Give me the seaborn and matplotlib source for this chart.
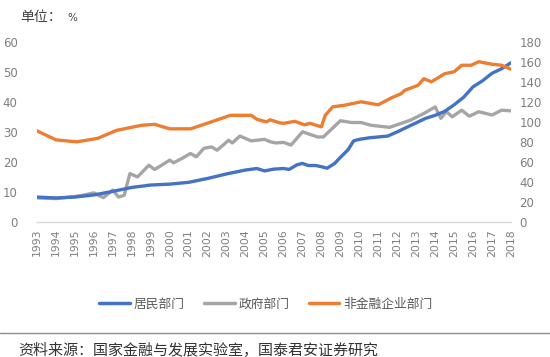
import matplotlib
matplotlib.use("Agg")
import matplotlib.pyplot as plt
from matplotlib.lines import Line2D
import seaborn as sns
import pandas as pd

# ---- data ----
hh_years = [1993, 1994, 1995, 1996, 1997, 1998, 1999, 2000, 2001, 2002, 2003, 2004, 2004.6,
            2005, 2005.5, 2006, 2006.3, 2006.7, 2007, 2007.3, 2007.7, 2008, 2008.3, 2008.7,
            2009, 2009.4, 2009.7, 2010, 2010.5, 2011, 2011.5, 2012, 2012.5, 2013, 2013.5,
            2014, 2014.5, 2015, 2015.5, 2016, 2016.5, 2017, 2017.5, 2018]
hh_vals = [8.3, 8.0, 8.3, 9.0, 10.2, 11.5, 12.3, 12.6, 13.2, 14.5, 16.0, 17.3, 17.8,
           17.0, 17.6, 17.8, 17.5, 19.0, 19.5, 18.8, 18.8, 18.4, 17.9, 19.5,
           21.5, 24.0, 27.0, 27.5, 28.0, 28.3, 28.6, 30.0, 31.5, 33.0, 34.5,
           35.5, 36.8, 39.0, 41.5, 45.0, 47.0, 49.5, 51.0, 53.0]

gov_years = [1993, 1994, 1995, 1995.5, 1996, 1996.5, 1997, 1997.3, 1997.6, 1997.9, 1998.3,
             1998.9, 1999.2, 1999.5, 2000, 2000.2, 2000.6, 2001.1, 2001.4, 2001.8, 2002.2,
             2002.5, 2002.8, 2003.1, 2003.3, 2003.7, 2004.3, 2005, 2005.3, 2005.6, 2006,
             2006.4, 2007, 2007.8, 2008.1, 2009, 2009.6, 2010.1, 2010.6, 2011.6, 2012.2,
             2012.7, 2013.4, 2014, 2014.3, 2014.6, 2014.9, 2015.4, 2015.8, 2016.3, 2017,
             2017.5, 2018]
gov_vals = [8.0, 7.8, 8.5, 9.0, 9.7, 8.1, 10.6, 8.3, 8.9, 16.1, 15.0,
            18.9, 17.5, 18.6, 20.6, 19.7, 21.0, 22.8, 21.7, 24.5, 25.0,
            23.9, 25.5, 27.2, 26.3, 28.6, 27.0, 27.5, 26.7, 26.3, 26.5,
            25.6, 30.0, 28.3, 28.3, 33.7, 33.1, 33.1, 32.2, 31.5, 32.8,
            33.9, 36.1, 38.3, 34.5, 36.7, 35.0, 37.2, 35.2, 36.7, 35.6,
            37.2, 37.0]

corp_years = [1993, 1994, 1995.1, 1996.2, 1997.2, 1998.5, 1999.2, 2000, 2001.1, 2002.2,
              2003.2, 2004.3, 2004.6, 2005.1, 2005.3, 2005.8, 2006.0, 2006.6, 2007.1,
              2007.4, 2008.0, 2008.2, 2008.6, 2009.2, 2010.1, 2011.0, 2011.7, 2012.2,
              2012.4, 2013.1, 2013.4, 2013.8, 2014.5, 2015.0, 2015.4, 2015.9, 2016.3,
              2017.0, 2017.5, 2018]
corp_vals = [91, 82, 80, 83.5, 91.5, 96.5, 97.5, 93, 93, 100,
             106.5, 106.5, 102.5, 100, 102, 99, 98.5, 100.5, 97,
             98.5, 95, 106.5, 115, 116.5, 120, 117, 124, 128,
             131.5, 136.5, 143, 140, 148, 150, 156.5, 156.5, 160,
             157.5, 156.5, 152.5]

series_names = ["居民部门", "政府部门", "非金融企业部门"]
year_labels = [str(y) for y in range(1993, 2019)]
left_ticks = [0, 10, 20, 30, 40, 50, 60]
right_ticks = [0, 20, 40, 60, 80, 100, 120, 140, 160, 180]

colors = ["#4472C4", "#A5A5A5", "#ED7D31"]

sns.set_style("white")
plt.rcParams["font.family"] = ["DejaVu Sans", "Noto Sans CJK SC"]

fig = plt.figure(figsize=(5.5, 3.57), dpi=100)
ax = fig.add_axes([37 / 550, 1 - 222 / 357, (511 - 37) / 550, (222 - 41.7) / 357])
ax2 = ax.twinx()

df_hh = pd.DataFrame({"year": hh_years, "val": hh_vals})
df_gov = pd.DataFrame({"year": gov_years, "val": gov_vals})
df_corp = pd.DataFrame({"year": corp_years, "val": corp_vals})

sns.lineplot(data=df_gov, x="year", y="val", ax=ax, color=colors[1], linewidth=2.4)
sns.lineplot(data=df_hh, x="year", y="val", ax=ax, color=colors[0], linewidth=2.4)
sns.lineplot(data=df_corp, x="year", y="val", ax=ax2, color=colors[2], linewidth=2.4)

ax.set_xlim(1993, 2018)
ax.set_ylim(0, 60)
ax2.set_ylim(0, 180)
ax.set_xticks(range(1993, 2019))
ax.set_xticklabels(year_labels, rotation=90, fontsize=7.8, color="#7f7f7f")
ax.set_yticks(left_ticks)
ax.set_yticklabels([str(t) for t in left_ticks], fontsize=8.5, color="#7f7f7f")
ax2.set_yticks(right_ticks)
ax2.set_yticklabels([str(t) for t in right_ticks], fontsize=8.5, color="#7f7f7f")
for a in (ax, ax2):
    a.set_xlabel("")
    a.set_ylabel("")
    a.tick_params(length=0)
    for s in a.spines.values():
        s.set_visible(False)
ax.tick_params(axis="y", pad=14)
ax2.tick_params(axis="y", pad=6)
ax.tick_params(axis="x", pad=5)
ax.spines["bottom"].set_visible(True)
ax.spines["bottom"].set_color("#d9d9d9")
ax.spines["bottom"].set_linewidth(1.0)
ax.grid(False)
ax2.grid(False)

fig.text(20 / 550, 1 - 17 / 357, "单位：", fontsize=10, color="#404040",
         family=["Noto Sans CJK SC"], va="center", ha="left")
fig.text(67 / 550, 1 - 18 / 357, "%", fontsize=7.5, color="#404040", va="center", ha="left")

handles = [Line2D([], [], color=c, linewidth=2.5) for c in colors]
fig.legend(handles, series_names, loc="center", bbox_to_anchor=(266 / 550, 1 - 304 / 357),
           ncol=3, frameon=False, handlelength=2.4, handletextpad=0.3,
           columnspacing=1.5, labelcolor="#595959",
           prop={"family": ["Noto Sans CJK SC"], "size": 9.2})

fig.add_artist(Line2D([0, 1], [1 - 333 / 357, 1 - 333 / 357], color="#8c8c8c",
                      linewidth=1.0, transform=fig.transFigure))
fig.text(18 / 550, 1 - 351 / 357, "资料来源：国家金融与发展实验室，国泰君安证券研究",
         fontsize=10.8, color="#333333", family=["Noto Sans CJK SC"], va="center", ha="left")

fig.savefig("out.png", dpi=100)
